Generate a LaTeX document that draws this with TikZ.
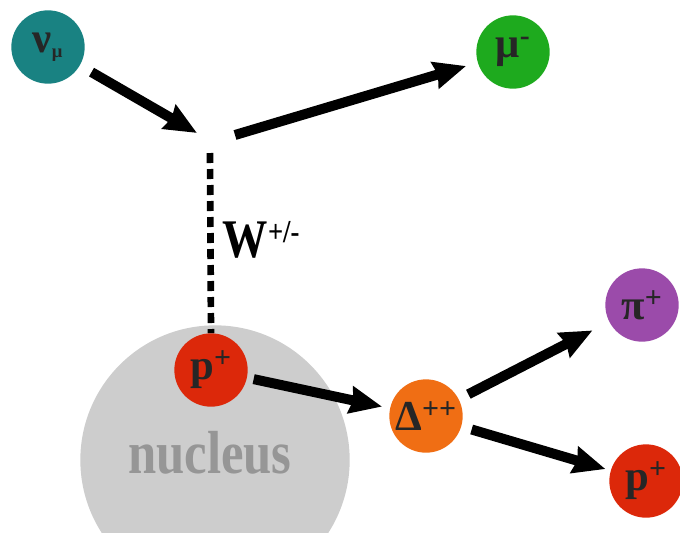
\documentclass[tikz,border=0pt]{standalone}
\usepackage{fontspec}
\usepackage{graphicx}
\setmainfont{Liberation Serif}
\usetikzlibrary{arrows.meta}

\definecolor{nucol}{RGB}{25,130,130}
\definecolor{mucol}{RGB}{30,170,30}
\definecolor{protcol}{RGB}{220,40,10}
\definecolor{deltacol}{RGB}{240,110,20}
\definecolor{picol}{RGB}{155,75,170}
\definecolor{nuclcol}{RGB}{205,205,205}
\definecolor{nucltext}{RGB}{150,150,150}

\newcommand{\tallish}[1]{\scalebox{1}[1.2]{#1}}

\begin{document}
\begin{tikzpicture}[
    x=0.75pt, y=-0.75pt,
    particle/.style={circle, minimum size=55pt, inner sep=0pt, text=black!85, font=\fontsize{32}{32}\selectfont\bfseries},
    arrow/.style={-{Stealth[length=24pt, width=20pt, inset=2pt]}, line width=7.5pt},
    boson/.style={line width=5pt, dash pattern=on 7.5pt off 4.5pt},
    label/.style={font=\fontsize{34}{34}\selectfont\bfseries}
]
\useasboundingbox (0,0) rectangle (680,532);
\clip (0,0) rectangle (680,532);

% ============ NUCLEUS ============
\node[circle, fill=nuclcol, minimum size=202pt, inner sep=0pt] (nucleus) at (215,460) {};
\node[label, font=\fontsize{38}{38}\selectfont\bfseries, text=nucltext] (nucleustext) at (210,453) {\tallish{nucleus}};

% ============ PARTICLES ============
\node[particle, fill=nucol] (nu) at (48,47) {ν\textsubscript{\fontsize{14}{14}\selectfont μ}};
\node[particle, fill=mucol] (mu) at (513,52) {μ\textsuperscript{-}};
\node[particle, fill=protcol] (p) at (211,370) {p\textsuperscript{+}};
\node[particle, fill=deltacol] (delta) at (426,416) {Δ\textsuperscript{++}};
\node[particle, fill=picol] (pi) at (642,305) {π\textsuperscript{+}};
\node[particle, fill=protcol] (pout) at (646,481) {p\textsuperscript{+}};

% vertex
\coordinate (vin) at (197,133);
\coordinate (vout) at (235,135);
\coordinate (wtop) at (210,153);

% ============ W EXCHANGE ============
\draw[boson] (wtop) -- (p.north);
\node[label, anchor=west] (wlabel) at (218,240) {\tallish{W\textsuperscript{\fontsize{20}{20}\selectfont +/-}}};

% ============ ARROWS ============
\draw[arrow, shorten <=10pt] (nu) -- (vin);
\draw[arrow, shorten >=9pt] (vout) -- (mu);
\draw[arrow, shorten <=5pt, shorten >=6pt] (p) -- (delta);
\draw[arrow, shorten <=8pt, shorten >=14pt] (delta) -- (pi);
\draw[arrow, shorten <=8pt, shorten >=4pt] (delta) -- (pout);

\end{tikzpicture}
\end{document}
